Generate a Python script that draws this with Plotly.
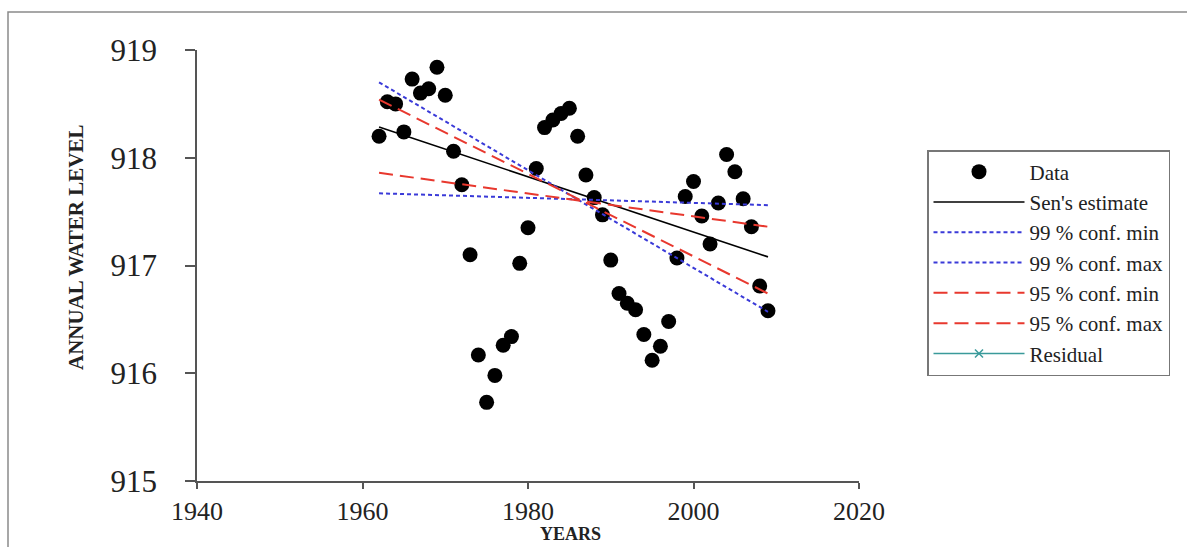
import plotly.graph_objects as go

# ---- data ----
years = list(range(1962, 2010))
water_level = [
    918.20, 918.52, 918.50, 918.24, 918.73, 918.60, 918.64, 918.84, 918.58, 918.06,
    917.75, 917.10, 916.17, 915.73, 915.98, 916.26, 916.34, 917.02, 917.35, 917.90,
    918.28, 918.35, 918.41, 918.46, 918.20, 917.84, 917.63, 917.47, 917.05, 916.74,
    916.65, 916.59, 916.36, 916.12, 916.25, 916.48, 917.07, 917.64, 917.78, 917.46,
    917.20, 917.58, 918.03, 917.87, 917.62, 917.36, 916.81, 916.58,
]
trend_years = [1962, 2009]
sen_estimate = [918.285, 917.08]
conf99_min = [917.67, 917.56]
conf99_max = [918.70, 916.57]
conf95_min = [917.86, 917.36]
conf95_max = [918.54, 916.74]

x_ticks = [1940, 1960, 1980, 2000, 2020]
y_ticks = [915, 916, 917, 918, 919]

FONT = "Liberation Serif"
BLUE = "#3a3ad8"
RED = "#e8382e"

fig = go.Figure()
fig.add_trace(go.Scatter(x=years, y=water_level, mode="markers", name="Data",
                         marker=dict(color="black", size=15), legendgroup="a"))
fig.add_trace(go.Scatter(x=trend_years, y=sen_estimate, mode="lines", name="Sen's estimate",
                         line=dict(color="black", width=1.6), legendgroup="b"))
fig.add_trace(go.Scatter(x=trend_years, y=conf99_min, mode="lines", name="99 % conf. min",
                         line=dict(color=BLUE, width=2, dash="4px,3px"), legendgroup="c"))
fig.add_trace(go.Scatter(x=trend_years, y=conf99_max, mode="lines", name="99 % conf. max",
                         line=dict(color=BLUE, width=2, dash="4px,3px"), legendgroup="d"))
fig.add_trace(go.Scatter(x=trend_years, y=conf95_min, mode="lines", name="95 % conf. min",
                         line=dict(color=RED, width=2, dash="14px,7px"), legendgroup="e"))
fig.add_trace(go.Scatter(x=trend_years, y=conf95_max, mode="lines", name="95 % conf. max",
                         line=dict(color=RED, width=2, dash="14px,7px"), legendgroup="f"))
fig.add_trace(go.Scatter(x=[None], y=[None], mode="lines+markers", name="Residual",
                         line=dict(color="#3a9a9a", width=1.6),
                         marker=dict(symbol="x-thin", size=8, line=dict(color="#3a9a9a", width=1.5)),
                         legendgroup="g"))

PW, PH = 662.0, 431.0  # plot area size in px

def px_x(p):
    return (p - 197) / PW

def px_y(p):
    return (481 - p) / PH

fig.update_layout(
    width=1187, height=547,
    margin=dict(l=197, r=328, t=50, b=66, autoexpand=False),
    paper_bgcolor="white", plot_bgcolor="white",
    font=dict(family=FONT, color="#222"),
    showlegend=True,
    legend=dict(x=px_x(927), y=px_y(150), xanchor="left", yanchor="top",
                font=dict(family=FONT, size=21, color="#222"),
                bordercolor="#777", borderwidth=1.5, bgcolor="white",
                itemwidth=91, traceorder="grouped", tracegroupgap=0),
    xaxis=dict(range=[1940, 2020], tickvals=x_ticks, ticktext=[str(v) for v in x_ticks],
               showgrid=False, zeroline=False, showline=True, linecolor="#555", linewidth=1.5,
               ticks="outside", ticklen=6, tickcolor="#555", tickwidth=1.5, automargin=False,
               tickfont=dict(family=FONT, size=26, color="#222")),
    yaxis=dict(range=[915, 919], tickvals=y_ticks, ticktext=[str(v) for v in y_ticks],
               showgrid=False, zeroline=False, showline=True, linecolor="#555", linewidth=1.5,
               ticks="outside", ticklen=10, tickcolor="#555", tickwidth=1.5, automargin=False,
               ticklabelstandoff=22,
               tickfont=dict(family=FONT, size=31, color="#222")),
    annotations=[
        dict(text="<b>YEARS</b>", xref="paper", yref="paper", x=px_x(570), y=px_y(546),
             xanchor="center", yanchor="bottom", showarrow=False,
             font=dict(family=FONT, size=18, color="#222")),
        dict(text="<b>ANNUAL WATER LEVEL</b>", xref="paper", yref="paper", x=px_x(76), y=px_y(248),
             xanchor="center", yanchor="middle", showarrow=False, textangle=-90,
             font=dict(family=FONT, size=21, color="#222")),
    ],
    shapes=[dict(type="rect", xref="paper", yref="paper",
                 x0=px_x(8), x1=px_x(1205), y0=px_y(560), y1=px_y(12),
                 line=dict(color="#8a8a8a", width=1.5), layer="below")],
)

fig.write_html("out.html")
